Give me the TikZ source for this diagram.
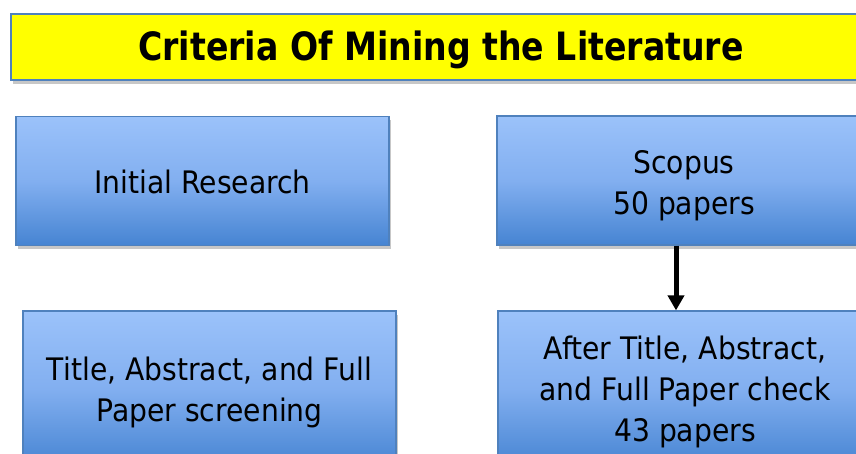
\documentclass[tikz,border=0pt]{standalone}
\usepackage{fontspec}
\setmainfont[FakeStretch=0.91]{DejaVu Sans}
\newfontfamily\titlefont[FakeStretch=0.85]{DejaVu Sans}
\usetikzlibrary{arrows.meta,shadows}
\definecolor{boxtop}{RGB}{155,194,250}
\definecolor{boxmid}{RGB}{130,175,240}
\definecolor{boxbot}{RGB}{70,132,210}
\definecolor{boxline}{RGB}{79,129,189}
\definecolor{titlefill}{RGB}{255,255,0}
\tikzset{
  bluebox/.style={draw=boxline, line width=1.2pt, top color=boxtop, bottom color=boxbot, middle color=boxmid,
    inner sep=0pt,
    drop shadow={shadow xshift=1.5pt, shadow yshift=-4pt, fill=black, opacity=0.22}},
  boxtext/.style={align=center, inner sep=0pt, font=\fontsize{31}{41}\selectfont},
  titlebox/.style={draw=boxline, line width=2pt, fill=titlefill, inner sep=0pt,
    drop shadow={shadow xshift=2pt, shadow yshift=-4pt, fill=black, opacity=0.22}},
  titletext/.style={inner sep=0pt, font=\titlefont\bfseries\fontsize{39}{40}\selectfont},
  flowarrow/.style={line width=5pt, -{Triangle[width=16pt,length=15pt]}}
}
\begin{document}
\begin{tikzpicture}[x=1pt,y=-1pt]
\useasboundingbox (0,0) rectangle (856,454);
\node[titlebox, minimum width=860pt, minimum height=66pt] (title) at (441,47) {};
\node[titletext] (titleT) at ([yshift=-2.5pt]title.center) {Criteria Of Mining the Literature};
\node[bluebox, minimum width=373pt, minimum height=129pt] (init) at (202.5,181) {};
\node[bluebox, minimum width=374pt, minimum height=129pt] (scopus) at (684,180.5) {};
\node[bluebox, minimum width=373pt, minimum height=156pt] (screen) at (209.5,389) {};
\node[bluebox, minimum width=374pt, minimum height=156pt] (after) at (685,389) {};
\node[boxtext] (initT) at ([yshift=-1pt]init.center) {Initial Research};
\node[boxtext] (scopusT) at ([yshift=-5pt]scopus.center) {Scopus\\50 papers};
\node[boxtext] (screenT) at ([yshift=-3pt]screen.center) {Title, Abstract, and Full\\Paper screening};
\node[boxtext] (afterT) at ([yshift=-3pt]after.center) {After Title, Abstract,\\and Full Paper check\\43 papers};
\draw[flowarrow] ([xshift=-8pt]scopus.south) -- ([xshift=-9pt]after.north);
\end{tikzpicture}
\end{document}
